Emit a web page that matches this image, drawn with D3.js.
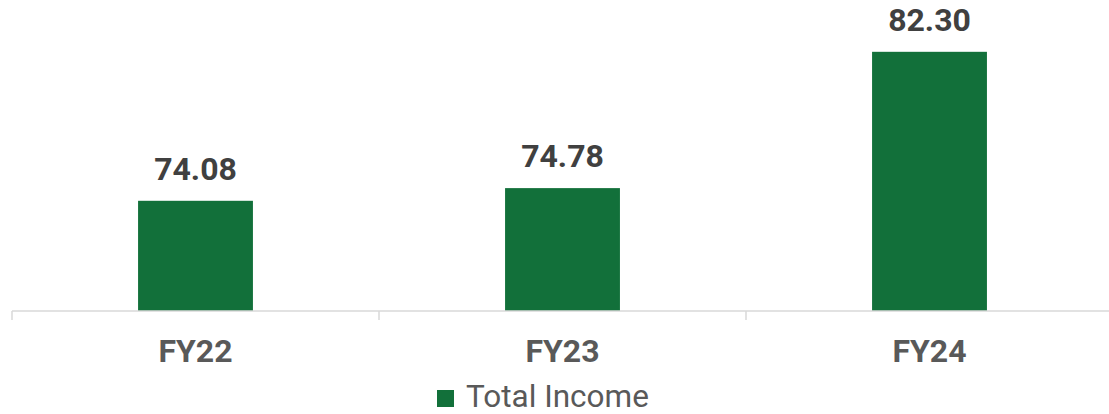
<!DOCTYPE html>
<html>
<head>
<meta charset="utf-8">
<script src="https://cdn.jsdelivr.net/npm/d3@7"></script>
<style>
  body { margin: 0; background: #fff; }
  svg { display: block; font-family: Roboto, "Liberation Sans", sans-serif; }
</style>
</head>
<body>
<svg width="1109" height="414"></svg>
<script>
var years = ["FY22", "FY23", "FY24"];
var totalIncome = [74.08, 74.78, 82.30];
var seriesName = "Total Income";

var barColor = "#12703a";

var svg = d3.select("svg");

var x = d3.scaleBand()
	.domain(years)
	.range([12, 1113])
	.paddingInner(0)
	.paddingOuter(0);

var y = d3.scaleLinear()
	.domain([68, 84])
	.range([311, 21]);

var barWidth = x.bandwidth() * 0.313;

// bars
svg.selectAll(".bar")
	.data(years)
	.enter()
	.append("rect")
	.attr("class", "bar")
	.attr("x", function(d) { return x(d) + x.bandwidth() / 2 - barWidth / 2; })
	.attr("y", function(d, i) { return y(totalIncome[i]); })
	.attr("width", barWidth)
	.attr("height", function(d, i) { return y(68) - y(totalIncome[i]); })
	.style("fill", barColor);

// value labels
svg.selectAll(".value")
	.data(years)
	.enter()
	.append("text")
	.attr("class", "value")
	.attr("x", function(d) { return x(d) + x.bandwidth() / 2; })
	.attr("y", function(d, i) { return y(totalIncome[i]) - 21; })
	.attr("text-anchor", "middle")
	.style("font-size", "32px")
	.style("font-weight", "bold")
	.style("fill", "#404040")
	.text(function(d, i) { return totalIncome[i].toFixed(2); });

// x axis
var axis = svg.append("g").attr("transform", "translate(0,311)");
axis.append("line")
	.attr("x1", 12).attr("x2", 1113)
	.style("stroke", "#d9d9d9").style("stroke-width", 1.5);
axis.selectAll(".tick")
	.data(years.concat(["end"]))
	.enter()
	.append("line")
	.attr("x1", function(d, i) { return 12 + i * x.step(); })
	.attr("x2", function(d, i) { return 12 + i * x.step(); })
	.attr("y1", 0).attr("y2", 9)
	.style("stroke", "#d9d9d9").style("stroke-width", 1.5);
axis.selectAll(".cat")
	.data(years)
	.enter()
	.append("text")
	.attr("x", function(d) { return x(d) + x.bandwidth() / 2; })
	.attr("y", 51)
	.attr("text-anchor", "middle")
	.style("font-size", "32px")
	.style("font-weight", "bold")
	.style("fill", "#595959")
	.text(function(d) { return d; });

// legend
var legend = svg.append("g");
legend.append("rect")
	.attr("x", 437).attr("y", 390)
	.attr("width", 17).attr("height", 17)
	.style("fill", barColor);
legend.append("text")
	.attr("x", 466).attr("y", 407)
	.style("font-size", "31.5px")
	.style("fill", "#595959")
	.text(seriesName);
</script>
</body>
</html>
